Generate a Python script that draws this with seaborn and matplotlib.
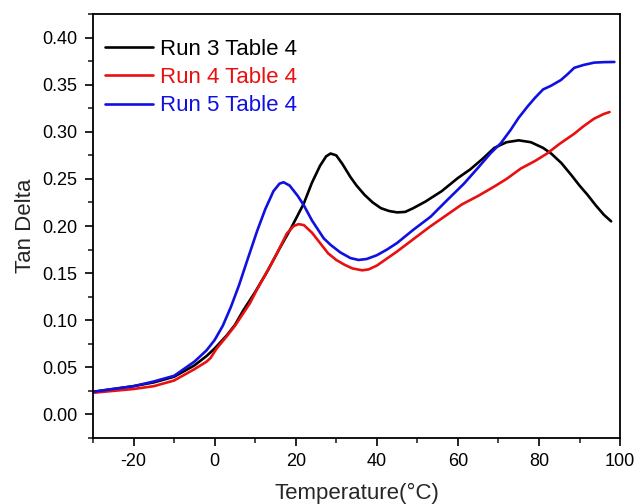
import matplotlib
matplotlib.use("Agg")
import matplotlib.pyplot as plt
from matplotlib.ticker import MultipleLocator
import numpy as np
import pandas as pd
import seaborn as sns

# Tan delta vs temperature for three runs
run3_temp = [-30, -25, -20, -15, -10, -5, -2, 0, 3, 5, 7, 10, 13, 16, 19, 22, 24, 26,
             27.5, 28.6, 30, 31.5, 33.5, 35, 37, 39, 41, 43, 45, 47, 49, 52, 56, 60,
             63, 66, 69, 72, 75, 78, 81, 83, 85.5, 88, 90, 92, 94, 96, 97.8]
run3_tan = [0.024, 0.027, 0.030, 0.034, 0.040, 0.052, 0.062, 0.070, 0.084, 0.095,
            0.110, 0.130, 0.152, 0.176, 0.199, 0.224, 0.246, 0.264, 0.274, 0.277,
            0.275, 0.266, 0.252, 0.243, 0.233, 0.225, 0.219, 0.216, 0.2145, 0.215,
            0.219, 0.226, 0.237, 0.251, 0.260, 0.271, 0.283, 0.289, 0.291, 0.289,
            0.283, 0.277, 0.267, 0.254, 0.243, 0.233, 0.222, 0.212, 0.205]

run4_temp = [-30, -25, -20, -15, -10, -5, -2, -1, 0.5, 3, 5, 8.7, 10.5, 13, 15.5, 17.8,
             19.5, 20.7, 22, 24, 26, 28, 30, 32, 34, 36.4, 38, 40, 42, 45, 49, 53, 57,
             61, 65, 69, 72, 75.5, 79, 82, 85, 88.7, 91, 93.6, 96, 97.4]
run4_tan = [0.023, 0.025, 0.027, 0.030, 0.036, 0.048, 0.056, 0.060, 0.070, 0.083,
            0.094, 0.118, 0.133, 0.152, 0.172, 0.192, 0.200, 0.202, 0.201, 0.193,
            0.182, 0.171, 0.164, 0.159, 0.155, 0.153, 0.154, 0.158, 0.164, 0.173,
            0.186, 0.199, 0.211, 0.223, 0.232, 0.242, 0.250, 0.261, 0.269, 0.277,
            0.287, 0.298, 0.306, 0.314, 0.319, 0.321]

run5_temp = [-30, -25, -20, -15, -10, -5, -2, 0, 2, 4, 6, 8, 10.5, 12.5, 14.5, 16, 17,
             18.5, 20.5, 22, 24, 26.9, 28.6, 31, 33.5, 35.5, 37.5, 40, 42.5, 45, 49,
             53.3, 57, 61.5, 65, 68, 70.6, 73, 75, 77.2, 79, 81, 83, 85.4, 87, 88.7,
             91, 93.6, 96, 98.6]
run5_tan = [0.024, 0.027, 0.030, 0.035, 0.041, 0.056, 0.068, 0.079, 0.094, 0.114,
            0.137, 0.163, 0.195, 0.218, 0.237, 0.245, 0.2465, 0.243, 0.232, 0.222,
            0.206, 0.187, 0.180, 0.172, 0.166, 0.164, 0.165, 0.169, 0.175, 0.182,
            0.196, 0.210, 0.226, 0.245, 0.262, 0.277, 0.288, 0.302, 0.315, 0.327,
            0.336, 0.345, 0.349, 0.355, 0.361, 0.368, 0.371, 0.3735, 0.374, 0.3742]

labels = ["Run 3 Table 4", "Run 4 Table 4", "Run 5 Table 4"]
colors = ["#000000", "#e81010", "#1010e0"]

frames = []
for lab, t, v in zip(labels, [run3_temp, run4_temp, run5_temp],
                     [run3_tan, run4_tan, run5_tan]):
    frames.append(pd.DataFrame({"Temperature": t, "TanDelta": v, "Run": lab}))
df = pd.concat(frames, ignore_index=True)

sns.set_theme(style="ticks")
plt.rcParams["font.family"] = ["Liberation Sans", "DejaVu Sans"]
plt.rcParams["axes.unicode_minus"] = False

fig = plt.figure(figsize=(6.34, 5.04), dpi=100)
ax = fig.add_axes([0.1467, 0.131, 0.8313, 0.841])

sns.lineplot(data=df, x="Temperature", y="TanDelta", hue="Run",
             palette=dict(zip(labels, colors)), estimator=None, sort=False,
             linewidth=1.9, ax=ax)

ax.set_xlim(-30, 100)
ax.set_ylim(-0.025, 0.425)
ax.xaxis.set_minor_locator(MultipleLocator(10))
ax.yaxis.set_minor_locator(MultipleLocator(0.025))
ax.set_xticks([-20, 0, 20, 40, 60, 80, 100])
ax.set_yticks(np.round(np.arange(0, 0.401, 0.05), 2))
ax.set_yticklabels([f"{v:.2f}" for v in np.arange(0, 0.401, 0.05)])

ax.tick_params(which="major", direction="out", length=6, width=1.2,
               labelsize=13, colors="black", pad=5)
ax.tick_params(which="minor", direction="out", length=3.5, width=1.2)
for s in ax.spines.values():
    s.set_linewidth(1.3)
    s.set_color("black")

ax.set_xlabel("Temperature(°C)", fontsize=16, labelpad=9)
ax.set_ylabel("Tan Delta", fontsize=16, labelpad=5)

leg = ax.legend(loc="upper left", frameon=False, fontsize=16,
                handlelength=2.2, handletextpad=0.3, labelspacing=0.32,
                borderaxespad=0.0, bbox_to_anchor=(0.005, 0.962),
                labelcolor="linecolor")
for line in leg.get_lines():
    line.set_linewidth(1.9)

fig.savefig("out.png", dpi=100, facecolor="white")
